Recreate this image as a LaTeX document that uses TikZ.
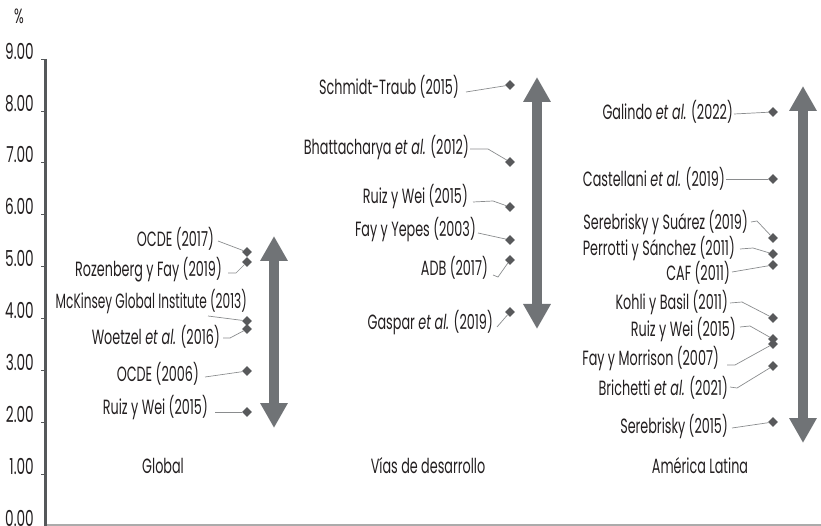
\documentclass[tikz,border=0pt]{standalone}
\usepackage{fontspec}
\setmainfont{Poppins}[FakeStretch=0.62]
\usetikzlibrary{shapes.geometric,arrows.meta}
\definecolor{arrowgray}{HTML}{707376}
\definecolor{dotgray}{HTML}{58595B}
\definecolor{leadgray}{HTML}{8A8C8E}
\definecolor{axisgray}{HTML}{55585A}
\definecolor{baseaxis}{HTML}{ABABAB}
\definecolor{textgray}{HTML}{231F20}
\tikzset{
  dot/.style={diamond,fill=dotgray,inner sep=0pt,minimum size=10pt},
  lab/.style={anchor=east,inner sep=0pt,text=textgray},
  leader/.style={draw=leadgray,line width=0.7pt},
  rangearrow/.style={draw=arrowgray,line width=10pt,
    {Triangle[width=26pt,length=25pt]}-{Triangle[width=26pt,length=25pt]}},
  ticklab/.style={anchor=base east,inner sep=0pt,text=textgray,
    font=\fontsize{22}{24}\selectfont},
  catlab/.style={anchor=center,inner sep=0pt,text=textgray}
}
\begin{document}
\begin{tikzpicture}[x=1pt,y=-1pt,font=\fontsize{20.6}{22}\selectfont]
\useasboundingbox (0,0) rectangle (821,526);
% axes
\coordinate (ytop) at (45.5,59);
\coordinate (orig) at (45.5,525);
\coordinate (xend) at (821,525);
\draw[baseaxis,line width=1.6pt] (orig) -- (xend);
\draw[axisgray,line width=2.2pt] (ytop) -- (45.5,527);
\foreach \v in {0,...,9}{
  \pgfmathsetmacro{\yy}{526.3-51.9*\v}
  \coordinate (t\v) at (44.5,\yy);
  \draw[axisgray,line width=1pt] (t\v) -- ++(-4,0);
  \node[ticklab] (tl\v) at (34,\yy) {\v.00};
}
\node[text=textgray,inner sep=0pt] (pct) at (19,16) {\%};

% range arrows
\coordinate (gtop) at (274,236); \coordinate (gbot) at (274,428);
\coordinate (mtop) at (537,77);  \coordinate (mbot) at (537,329);
\coordinate (rtop) at (803,86);  \coordinate (rbot) at (803,443);
\draw[rangearrow] (gtop) -- (gbot);
\draw[rangearrow] (mtop) -- (mbot);
\draw[rangearrow] (rtop) -- (rbot);

% Global
\node[dot] (gd1) at (247,252) {};
\node[dot] (gd2) at (247,262) {};
\node[dot] (gd3) at (247,321) {};
\node[dot] (gd4) at (247,329) {};
\node[dot] (gd5) at (247,371) {};
\node[dot] (gd6) at (247,412) {};
\node[lab] (gl1) at (214,239) {OCDE (2017)};
\node[lab] (gl2) at (222,270) {Rozenberg y Fay (2019)};
\node[lab] (gl3) at (247,302) {\scalebox{0.95}[1]{McKinsey Global Institute (2013)}};
\node[lab] (gl4) at (220,337) {Woetzel \textit{et al.} (2016)};
\node[lab] (gl5) at (199,374) {OCDE (2006)};
\node[lab] (gl6) at (208,408) {Ruiz y Wei (2015)};
\draw[leader] ([xshift=4pt,yshift=-2pt]gl1.east) -- (gd1);
\draw[leader] ([xshift=6pt,yshift=-3pt]gl2.east) -- ++(8,0) -- (gd2);
\draw[leader] ([xshift=-39pt,yshift=-14pt]gl3.east) -- (gd3);
\draw[leader] ([xshift=3pt,yshift=-1pt]gl4.east) -- ++(7,0) -- (gd4);
\draw[leader] ([xshift=6pt,yshift=-3pt]gl5.east) -- (gd5);
\draw[leader] ([xshift=7pt,yshift=-4pt]gl6.east) -- (gd6);

% Vias de desarrollo
\node[dot] (md1) at (510,85) {};
\node[dot] (md2) at (510,162) {};
\node[dot] (md3) at (510,207) {};
\node[dot] (md4) at (510,240) {};
\node[dot] (md5) at (510,260) {};
\node[dot] (md6) at (510,312) {};
\node[lab] (ml1) at (459,87) {Schmidt-Traub (2015)};
\node[lab] (ml2) at (469,148) {Bhattacharya \textit{et al.} (2012)};
\node[lab] (ml3) at (468,197) {Ruiz y Wei (2015)};
\node[lab] (ml4) at (476,230) {Fay y Yepes (2003)};
\node[lab] (ml5) at (488,268) {ADB (2017)};
\node[lab] (ml6) at (493,323) {Gaspar \textit{et al.} (2019)};
\draw[leader] ([xshift=7pt,yshift=-5pt]ml1.east) -- (md1);
\draw[leader] ([xshift=1pt,yshift=-1pt]ml2.east) -- ++(18,0) -- (md2);
\draw[leader] ([xshift=5pt,yshift=-5pt]ml3.east) -- ++(20,-1) -- (md3);
\draw[leader] ([xshift=2pt,yshift=-3pt]ml4.east) -- (md4);
\draw[leader] ([xshift=5pt,yshift=-7pt]ml5.east) -- ++(5,2) -- (md5);
\draw[leader] ([xshift=4pt,yshift=-4pt]ml6.east) -- (md6);

% America Latina
\node[dot] (rd1) at (773,112) {};
\node[dot] (rd2) at (773,179) {};
\node[dot] (rd3) at (773,238) {};
\node[dot] (rd4) at (773,254) {};
\node[dot] (rd5) at (773,265) {};
\node[dot] (rd6) at (773,318) {};
\node[dot] (rd7) at (773,339) {};
\node[dot] (rd8) at (773,344) {};
\node[dot] (rd9) at (773,366) {};
\node[dot] (rd10) at (773,422) {};
\node[lab] (rl1) at (733,112) {Galindo \textit{et al.} (2022)};
\node[lab] (rl2) at (725,179) {Castellani \textit{et al.} (2019)};
\node[lab] (rl3) at (748,223) {Serebrisky y Suárez (2019)};
\node[lab] (rl4) at (735,249) {Perrotti y Sánchez (2011)};
\node[lab] (rl5) at (730,273) {CAF (2011)};
\node[lab] (rl6) at (728,303) {Kohli y Basil (2011)};
\node[lab] (rl7) at (736,330) {Ruiz y Wei (2015)};
\node[lab] (rl8) at (719,359) {Fay y Morrison (2007)};
\node[lab] (rl9) at (728,388) {Brichetti \textit{et al.} (2021)};
\node[lab] (rl10) at (728,427) {Serebrisky (2015)};
\draw[leader] ([xshift=1pt,yshift=-2pt]rl1.east) -- (rd1);
\draw[leader] ([xshift=1pt]rl2.east) -- (rd2);
\draw[leader] ([xshift=3pt,yshift=1pt]rl3.east) -- ++(6,-1) -- (rd3);
\draw[leader] ([xshift=5pt]rl4.east) -- ++(13,-1) -- (rd4);
\draw[leader] ([xshift=2pt,yshift=1pt]rl5.east) -- (rd5);
\draw[leader] ([xshift=2pt]rl6.east) -- ++(12,-1) -- (rd6);
\draw[leader] ([xshift=4pt,yshift=3pt]rl7.east) -- ++(10,-1) -- (rd7);
\draw[leader] ([xshift=8pt,yshift=-6pt]rl8.east) -- ++(8,0) -- (rd8);
\draw[leader] ([xshift=2pt,yshift=1pt]rl9.east) -- ++(7,1) -- (rd9);
\draw[leader] ([xshift=4pt,yshift=-1pt]rl10.east) -- (rd10);

% category labels
\node[catlab] (c1) at (163,466) {Global};
\node[catlab] (c2) at (428,466) {Vías de desarrollo};
\node[catlab] (c3) at (700,466) {América Latina};
\end{tikzpicture}
\end{document}
